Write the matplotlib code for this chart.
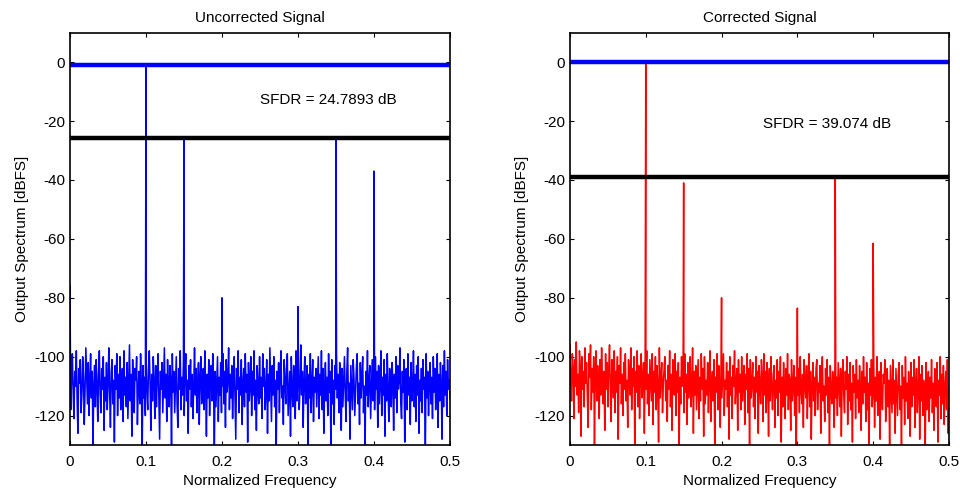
import numpy as np
import matplotlib
matplotlib.use('Agg')
import matplotlib.pyplot as plt

plt.rcParams['font.family'] = ['Liberation Sans', 'DejaVu Sans']
plt.rcParams['font.size'] = 11
plt.rcParams['axes.unicode_minus'] = False

# Noise floor levels (dB), uncorrected output
noise_uncorr = [
    -103, -118, -107, -99, -112, -121, -105, -110, -98, -115, -126, -104, -109, -101, -119, -113, -100, -107, -123, -111, -97, -106, -116, -102,
    -120, -108, -99, -114, -105, -131, -110, -103, -117, -101, -109, -122, -106, -98, -113, -119, -104, -111, -100, -125, -107, -115, -102, -118,
    -109, -97, -112, -124, -105, -101, -116, -108, -129, -103, -111, -99, -120, -106, -114, -100, -118, -110, -104, -122, -98, -113, -107, -117,
    -102, -121, -109, -96, -115, -106, -127, -101, -112, -119, -104, -108, -100, -123, -111, -105, -116, -99, -110, -133, -103, -114, -107, -120,
    -101, -112, -118, -104, -98, -110, -125, -106, -115, -100, -109, -121, -103, -117, -107, -99, -113, -128, -105, -111, -102, -119, -108, -97,
    -114, -106, -122, -101, -110, -117, -103, -108, -130, -99, -112, -105, -119, -109, -100, -116, -124, -104, -111, -98, -118, -107, -113, -102,
    -120, -105, -99, -115, -108, -126, -103, -111, -101, -117, -106, -121, -110, -97, -113, -104, -119, -109, -102, -123, -107, -100, -116, -112,
    -104, -118, -98, -110, -127, -106, -114, -101, -120, -108, -103, -115, -99, -111, -132, -105, -117, -109, -100, -122, -107, -113, -102, -119,
    -110, -99, -116, -105, -124, -101, -112, -108, -97, -118, -106, -114, -103, -121, -109, -100, -115, -128, -104, -111, -98, -119, -107, -113,
    -101, -123, -109, -104, -117, -99, -112, -106, -129, -102, -115, -110, -100, -120, -105, -113, -98, -118, -108, -125, -103, -111, -116, -100,
    -114, -107, -121, -99, -110, -104, -118, -112, -101, -126, -106, -115, -97, -109, -122, -103, -113, -100, -117, -108, -131, -105, -111, -102,
    -119, -106, -98, -114, -110, -123, -101, -108, -116, -104, -99, -120, -112, -105, -127, -100, -111, -117, -103, -109, -121, -98, -115, -107,
    -102, -118, -110, -96, -113, -105, -124, -108, -100, -116, -111, -103, -130, -106, -114, -99, -119, -109, -101, -122, -107, -112, -104, -117,
    -109, -100, -121, -106, -113, -98, -118, -104, -126, -110, -102, -115, -107, -120, -99, -112, -105, -134, -101, -116, -108, -123, -103, -111,
    -99, -114, -106, -119, -102, -110, -125, -104, -117, -108, -100, -113, -122, -105, -97, -115, -109, -128, -103, -111, -118, -101, -107, -120,
    -112, -104, -99, -116, -109, -123, -102, -114, -106, -100, -119, -110, -131, -105, -113, -98, -117, -108, -103, -121, -111, -101, -115, -107,
    -118, -100, -111, -105, -124, -103, -116, -109, -98, -120, -107, -113, -101, -127, -106, -115, -99, -112, -122, -104, -110, -117, -102, -108,
    -125, -106, -114, -100, -119, -103, -111, -108, -97, -116, -121, -105, -112, -101, -129, -109, -104, -118, -99, -113, -107, -123, -102, -115,
    -110, -98, -117, -106, -122, -103, -113, -100, -126, -108, -115, -104, -119, -101, -111, -107, -132, -99, -114, -105, -120, -109, -102, -116,
    -107, -121, -100, -112, -104, -118, -110, -99, -124, -106, -115, -102, -109, -128, -103, -117, -98, -113, -105, -120, -101, -111, -108, -114,
]

# Noise floor levels (dB), corrected output
noise_corr = [
    -96, -108, -115, -99, -104, -121, -101, -110, -95, -113, -106, -119, -98, -103, -127, -100, -111, -105, -117, -97, -109, -102, -114, -124,
    -99, -107, -96, -118, -104, -112, -100, -130, -106, -98, -115, -103, -109, -121, -101, -113, -97, -108, -116, -105, -125, -99, -111, -102,
    -117, -104, -96, -110, -122, -101, -107, -114, -98, -119, -105, -112, -100, -128, -103, -109, -97, -116, -106, -120, -102, -111, -99, -115,
    -108, -124, -101, -106, -113, -97, -118, -104, -110, -100, -133, -105, -112, -98, -117, -103, -121, -107, -99, -114, -109, -102, -126, -104,
    -111, -98, -116, -106, -120, -101, -108, -115, -99, -123, -105, -112, -100, -118, -103, -110, -129, -97, -114, -107, -102, -119, -109, -104,
    -100, -115, -108, -122, -103, -111, -98, -117, -106, -125, -101, -109, -113, -99, -120, -105, -112, -102, -131, -107, -116, -100, -110, -104,
    -119, -99, -112, -106, -123, -102, -114, -108, -100, -117, -110, -97, -126, -105, -113, -103, -118, -109, -101, -121, -107, -115, -99, -111,
    -104, -127, -100, -116, -108, -113, -102, -119, -106, -98, -122, -110, -105, -115, -101, -130, -107, -112, -99, -118, -103, -109, -124, -101,
    -114, -106, -99, -120, -108, -111, -102, -117, -105, -128, -100, -113, -107, -121, -103, -110, -98, -116, -109, -104, -125, -101, -112, -106,
    -118, -100, -115, -108, -103, -123, -106, -111, -99, -119, -104, -132, -101, -114, -109, -102, -117, -107, -121, -100, -112, -105, -126, -103,
    -110, -116, -101, -107, -122, -99, -113, -105, -119, -102, -109, -127, -104, -115, -100, -111, -118, -106, -103, -124, -108, -114, -101, -120,
    -105, -112, -100, -129, -107, -117, -102, -110, -121, -104, -113, -99, -118, -106, -108, -125, -101, -115, -110, -103, -120, -107, -133, -102,
    -113, -104, -119, -100, -111, -116, -106, -124, -101, -109, -114, -103, -121, -108, -99, -117, -105, -128, -110, -102, -115, -107, -120, -104,
    -101, -118, -109, -112, -103, -126, -106, -100, -115, -110, -122, -104, -113, -101, -119, -107, -131, -103, -111, -116, -105, -109, -124, -100,
    -114, -107, -120, -102, -110, -117, -104, -127, -108, -101, -113, -119, -105, -111, -100, -123, -106, -115, -102, -118, -109, -129, -103, -112,
    -106, -121, -101, -114, -108, -119, -103, -110, -125, -105, -116, -100, -112, -107, -122, -102, -118, -109, -134, -104, -113, -101, -117, -110,
    -103, -124, -107, -115, -100, -120, -111, -105, -128, -102, -113, -118, -106, -109, -101, -122, -114, -104, -117, -108, -130, -103, -111, -119,
    -101, -116, -108, -126, -104, -112, -120, -106, -102, -118, -110, -131, -103, -114, -107, -123, -100, -115, -109, -121, -105, -112, -127, -102,
    -117, -107, -113, -101, -124, -109, -104, -119, -111, -100, -128, -106, -115, -103, -120, -108, -112, -133, -102, -118, -110, -105, -122, -107,
    -114, -101, -119, -109, -125, -104, -111, -117, -102, -129, -108, -113, -100, -121, -106, -116, -103, -123, -110, -105, -118, -101, -126, -112,
]

# Tone and spur bins
spur_f_uncorr = [0.0, 0.1, 0.15, 0.2, 0.3, 0.35, 0.4]
spur_db_uncorr = [-76, -1.0, -26.2, -80, -83, -25.7893, -37]
spur_f_corr = [0.1, 0.15, 0.2, 0.3, 0.35, 0.4]
spur_db_corr = [0.0, -41, -80, -83.5, -39.074, -61.5]

signal_db = [-1.0, 0.0]
sfdr_db = [24.7893, 39.074]
titles = ['Uncorrected Signal', 'Corrected Signal']


def spectrum(noise, spur_f, spur_db):
    f = np.concatenate([np.linspace(0, 0.5, len(noise)), spur_f])
    p = np.concatenate([noise, spur_db])
    idx = np.argsort(f, kind='stable')
    return f[idx], p[idx]


fig = plt.figure(figsize=(9.6, 4.88), dpi=100)
ax1 = fig.add_axes([0.0729, 0.088, 0.3958, 0.845])
ax2 = fig.add_axes([0.5937, 0.088, 0.3948, 0.845])

data = [(noise_uncorr, spur_f_uncorr, spur_db_uncorr, 'blue'),
        (noise_corr, spur_f_corr, spur_db_corr, 'red')]

for i, ax in enumerate([ax1, ax2]):
    noise, sf, sd, col = data[i]
    f, p = spectrum(noise, sf, sd)
    ax.plot(f, p, color=col, lw=1.1)
    ax.axhline(signal_db[i], color='blue', lw=3.2)
    ax.axhline(signal_db[i] - sfdr_db[i], color='black', lw=3.2)
    ax.set_xlim(0, 0.5)
    ax.set_ylim(-130, 10)
    ax.set_xticks([0, 0.1, 0.2, 0.3, 0.4, 0.5])
    ax.set_xticklabels(['0', '0.1', '0.2', '0.3', '0.4', '0.5'])
    ax.set_yticks([0, -20, -40, -60, -80, -100, -120])
    ax.tick_params(direction='in', top=True, right=True, length=3, labelsize=11)
    ax.tick_params(axis='x', pad=7)
    for s in ax.spines.values():
        s.set_linewidth(1.2)
    ax.set_xlabel('Normalized Frequency', fontsize=11, labelpad=4)
    ax.set_ylabel('Output Spectrum [dBFS]', fontsize=11, labelpad=4)
    ax.set_title(titles[i], fontsize=11, pad=8)

ax1.text(0.25, -13, 'SFDR = %g dB' % sfdr_db[0], fontsize=11, va='center')
ax2.text(0.255, -21, 'SFDR = %g dB' % sfdr_db[1], fontsize=11, va='center')

fig.savefig('out.png', dpi=100)
